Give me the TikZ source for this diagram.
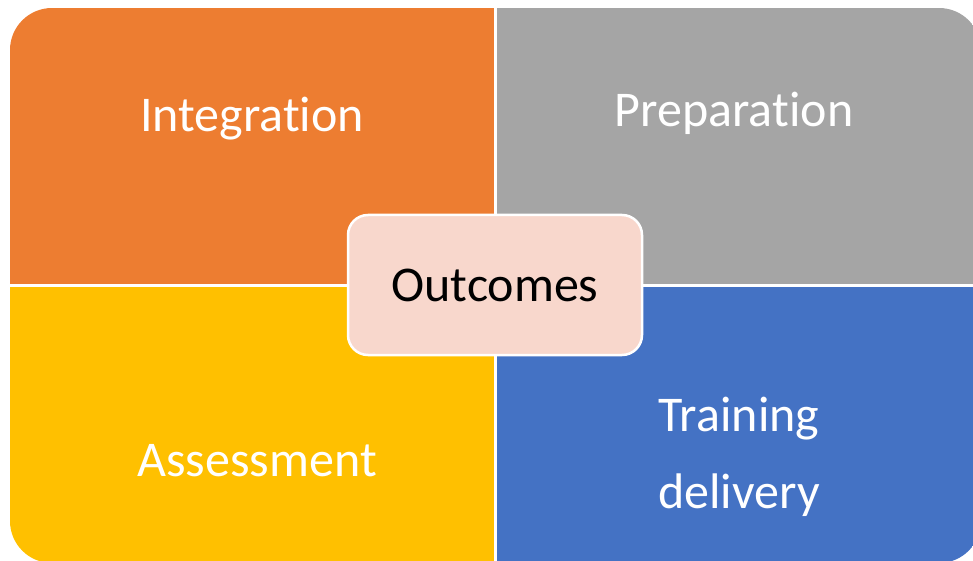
\documentclass[tikz,border=0pt]{standalone}
\usepackage{fontspec}
\setmainfont{Carlito}[Ligatures={NoCommon}]

\definecolor{integcol}{HTML}{ED7D31}
\definecolor{prepcol}{HTML}{A5A5A5}
\definecolor{assesscol}{HTML}{FFC000}
\definecolor{traincol}{HTML}{4472C4}
\definecolor{outcol}{HTML}{F8D7CC}

\tikzset{
  quadtext/.style={text=white, anchor=base, inner sep=0pt, font=\fontsize{50}{77}\selectfont},
  centrebox/.style={fill=outcol, draw=white, line width=2.5pt, rounded corners=20pt,
    minimum width=294pt, minimum height=140pt, font=\fontsize{50}{60}\selectfont}
}

\begin{document}
\begin{tikzpicture}[x=1pt,y=-1pt]
\useasboundingbox (0,0) rectangle (973,561);

% quadrants
\begin{scope}
\clip[rounded corners=42pt] (10,8) rectangle (981,563);
\path[fill=integcol] (10,8) rectangle (494,284);
\path[fill=prepcol] (497,8) rectangle (981,284);
\path[fill=assesscol] (10,287) rectangle (494,563);
\path[fill=traincol] (497,287) rectangle (981,563);
\end{scope}

% labels
\node[quadtext] (integration) at (252,132) {Integration};
\node[quadtext] (preparation) at (734,127) {Preparation};
\node[quadtext] (assessment) at (257,476) {Assessment};
\node[quadtext, anchor=center, align=center] (training) at (739,457) {Training\\delivery};

% centre
\node[centrebox] (outcomes) at (495,285) {Outcomes};
\end{tikzpicture}
\end{document}
